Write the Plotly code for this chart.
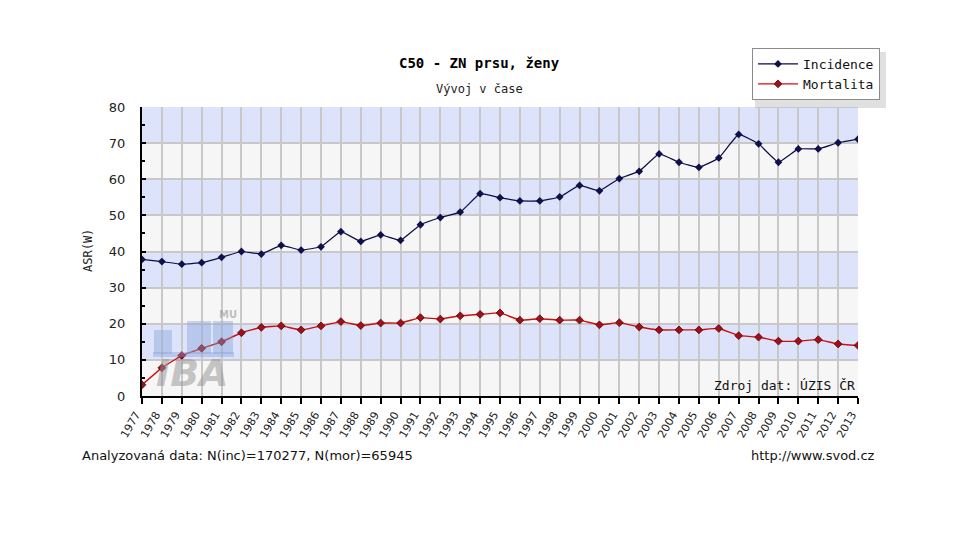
import plotly.graph_objects as go

# data
years = list(range(1977, 2014))
incidence = [37.8, 37.2, 36.5, 36.9, 38.4, 40.0, 39.3, 41.7, 40.4, 41.3,
             45.5, 42.8, 44.6, 43.1, 47.4, 49.4, 50.9, 56.0, 54.9, 54.0,
             54.0, 55.1, 58.3, 56.8, 60.2, 62.2, 67.0, 64.7, 63.3, 65.9,
             72.4, 69.8, 64.7, 68.4, 68.4, 70.1, 71.1]
mortalita = [3.1, 7.8, 11.2, 13.2, 15.0, 17.5, 19.0, 19.4, 18.3, 19.4,
             20.6, 19.5, 20.2, 20.2, 21.7, 21.3, 22.2, 22.6, 23.0, 21.0,
             21.4, 21.0, 21.0, 19.7, 20.3, 19.1, 18.3, 18.3, 18.3, 18.7,
             16.7, 16.3, 15.2, 15.2, 15.6, 14.4, 14.0]
y_ticks = [0, 10, 20, 30, 40, 50, 60, 70, 80]

MONO = "DejaVu Sans Mono"
SANS = "DejaVu Sans"

# page body adds a small offset, compensate in margins
OFF = 7

fig = go.Figure()

fig.add_trace(go.Scatter(
    x=years, y=incidence, name="Incidence", mode="lines+markers",
    line=dict(color="#0c0c48", width=1.2, shape="spline", smoothing=0.3),
    marker=dict(symbol="diamond", size=6, color="#10104c"),
))
fig.add_trace(go.Scatter(
    x=years, y=mortalita, name="Mortalita", mode="lines+markers",
    line=dict(color="#cc1010", width=1.4, shape="spline", smoothing=0.3),
    marker=dict(symbol="diamond", size=6, color="#a01018",
                line=dict(color="#5a0008", width=0.8)),
))

# alternating horizontal bands
shapes = []
for lo, hi in zip(y_ticks[:-1], y_ticks[1:]):
    if (lo // 10) % 2 == 1:
        shapes.append(dict(type="rect", xref="paper", yref="y",
                           x0=0, x1=1, y0=lo, y1=hi, layer="below",
                           fillcolor="#dce3fa", line_width=0))

# positions below are given in reference pixels, converted to plot-area paper coords
W, H = 716.0, 289.0


def px(x, y):
    return (x - 141) / W, (395 - y) / H


# IBA watermark
for (ax0, ay0, ax1, ay1) in [(153, 329, 171, 353), (186, 320, 210, 353),
                             (212, 320, 232, 353), (152, 351, 233, 356)]:
    x0, y0 = px(ax0, ay1)
    x1, y1 = px(ax1, ay0)
    shapes.append(dict(type="rect", xref="paper", yref="paper",
                       x0=x0, x1=x1, y0=y0, y1=y1, layer="above",
                       fillcolor="rgba(130,160,215,0.40)", line_width=0))

# legend shadow
shapes.append(dict(type="rect", xref="paper", yref="paper",
                   x0=(754 - 141) / W, x1=(885 - 141) / W,
                   y0=(395 - 107) / H, y1=(395 - 51) / H,
                   fillcolor="rgba(0,0,0,0.12)", line_width=0, layer="below"))

annotations = [
    dict(text="<b>C50 - ZN prsu, ženy</b>", x=478, y=62, font=dict(family=MONO, size=14, color="#000")),
    dict(text="Vývoj v čase", x=478, y=88, font=dict(family=MONO, size=12, color="#222")),
    dict(text="ASR(W)", x=87, y=250, textangle=-90, font=dict(family=MONO, size=12, color="#222")),
    dict(text="Analyzovaná data: N(inc)=170277, N(mor)=65945", x=79, y=454, xanchor="left",
         font=dict(family=SANS, size=13, color="#111")),
    dict(text="http://www.svod.cz", x=876, y=454, xanchor="right",
         font=dict(family=SANS, size=13, color="#111")),
    dict(text="Zdroj dat: ÚZIS ČR", x=856, y=384, xanchor="right",
         font=dict(family=MONO, size=13, color="#111")),
    dict(text="<b><i>IBA</i></b>", x=191, y=372, font=dict(family=SANS, size=38, color="rgba(150,150,150,0.55)")),
    dict(text="<b>MU</b>", x=227, y=313, font=dict(family=SANS, size=10, color="rgba(150,150,150,0.6)")),
]
for a in annotations:
    a.update(xref="paper", yref="paper", showarrow=False, yanchor="middle")
    a.setdefault("xanchor", "center")
    a["x"] = (a["x"] - 141) / W
    a["y"] = (395 - a["y"]) / H

fig.update_layout(
    width=960, height=540,
    margin=dict(l=141 - OFF, r=103 + OFF, t=106 - OFF, b=145 + OFF),
    paper_bgcolor="white",
    plot_bgcolor="#f6f6f6",
    shapes=shapes,
    annotations=annotations,
    showlegend=True,
    legend=dict(x=(751 - 141) / W, y=(395 - 47) / H, xanchor="left", yanchor="top",
                bgcolor="white", bordercolor="#8a8a8a", borderwidth=1,
                font=dict(family=MONO, size=13, color="#111"),
                itemwidth=40, tracegroupgap=4),
)

fig.update_xaxes(
    range=[1977, 2013], tickmode="array", tickvals=years,
    ticktext=[str(y) for y in years], tickangle=-60,
    tickfont=dict(family=SANS, size=11, color="#222"),
    ticklabelshift=-6,
    showgrid=True, gridcolor="#c8c8c8", gridwidth=1.5,
    showline=True, linecolor="#000", linewidth=2,
    ticks="outside", ticklen=6, tickcolor="#000", tickwidth=2,
    zeroline=False,
)
fig.update_yaxes(
    range=[0, 80], tickmode="array", tickvals=y_ticks,
    tickfont=dict(family=SANS, size=13, color="#222"),
    ticklabelstandoff=12,
    showgrid=True, gridcolor="#c8c8c8", gridwidth=2,
    showline=True, linecolor="#000", linewidth=2,
    ticks="inside", ticklen=4, tickcolor="#000", tickwidth=2,
    minor=dict(dtick=5, ticks="inside", ticklen=3, tickcolor="#000", showgrid=False),
    zeroline=False,
)

fig.write_html("out.html")
